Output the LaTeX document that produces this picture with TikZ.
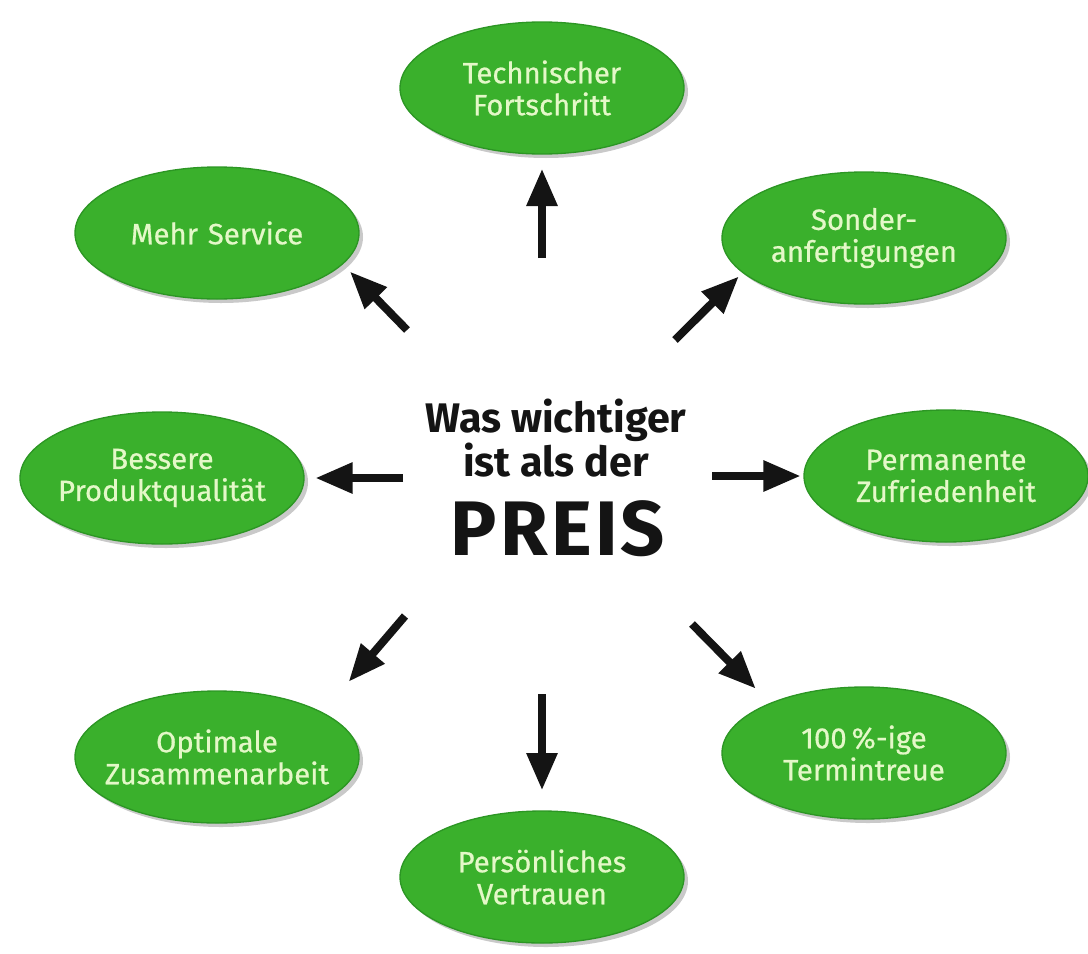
\documentclass[tikz,border=0pt]{standalone}
\usepackage{fontspec}
\setmainfont{Fira Sans}
\newfontfamily\blattfont[FakeBold=0.6]{Fira Sans}
\usetikzlibrary{shapes.geometric,arrows.meta,shadows}
\definecolor{blatt}{RGB}{58,176,44}
\definecolor{blattrand}{RGB}{44,150,36}
\definecolor{blattschrift}{RGB}{228,248,200}
\definecolor{tinte}{RGB}{20,20,20}
\tikzset{every picture/.style={line width=0.75pt}}

\begin{document}
\begin{tikzpicture}[x=0.75pt,y=0.75pt,yscale=-1,xscale=1,
  ziel/.style={ellipse, fill=blatt, draw=blattrand, line width=1pt, text=blattschrift,
    minimum width=213pt, minimum height=99pt, text width=190pt, align=center,
    inner xsep=-22pt, inner ysep=0pt, font=\blattfont\fontsize{22}{24}\selectfont,
    drop shadow={shadow xshift=3pt, shadow yshift=-3pt, opacity=0.3, fill=black!70}},
  pfeil/.style={draw=tinte, line width=6pt, -{Triangle[length=28pt,width=22pt]}},
  frage/.style={text=tinte, align=center, inner sep=0pt, font=\bfseries\fontsize{31}{30}\selectfont}]
\useasboundingbox (0,0) rectangle (1088,953);

% Center Text
\node [frage] (was) at (556,438) {Was wichtiger\\ist als der};
\node [frage, font=\bfseries\fontsize{58}{58}\selectfont] (preis) at (558,529) {\addfontfeature{LetterSpace=4}PREIS};

% Ellipses
\node [ziel] (technik) at (542,88) {Technischer\\Fortschritt};
\node [ziel] (service) at (217,233) {Mehr Service};
\node [ziel] (sonder) at (864,238) {Sonder-\\anfertigungen};
\node [ziel] (qualitaet) at (162,478) {Bessere\\Produktqualität};
\node [ziel] (zufrieden) at (946,476) {Permanente\\Zufriedenheit};
\node [ziel] (zusammen) at (217,757) {Optimale\\Zusammenarbeit};
\node [ziel] (termin) at (864,753) {100\,\%-ige\\Termintreue};
\node [ziel] (vertrauen) at (542,877) {Persönliches\\Vertrauen};

% Arrow tails
\coordinate (aN) at (542,258);
\coordinate (aNW) at (407,330);
\coordinate (aNE) at (675,340);
\coordinate (aW) at (403,478);
\coordinate (aE) at (712,476);
\coordinate (aSW) at (405,616);
\coordinate (aS) at (542,694);
\coordinate (aSE) at (692,624);

%Straight Lines
\draw [pfeil, shorten >=10.5pt] (aN) -- (technik.south);
\draw [pfeil, shorten >=7.5pt] (aNW) -- (service.-14.5);
\draw [pfeil, shorten >=3.75pt] (aNE) -- (sonder.-164.7);
\draw [pfeil, shorten >=8pt] (aW) -- (qualitaet.east);
\draw [pfeil, shorten >=2pt] (aE) -- (zufrieden.west);
\draw [pfeil, shorten >=30pt] (aSW) -- (zusammen.23);
\draw [pfeil, shorten >=15pt] (aS) -- (vertrauen.north);
\draw [pfeil, shorten >=15pt] (aSE) -- (termin.152.9);

\end{tikzpicture}
\end{document}
